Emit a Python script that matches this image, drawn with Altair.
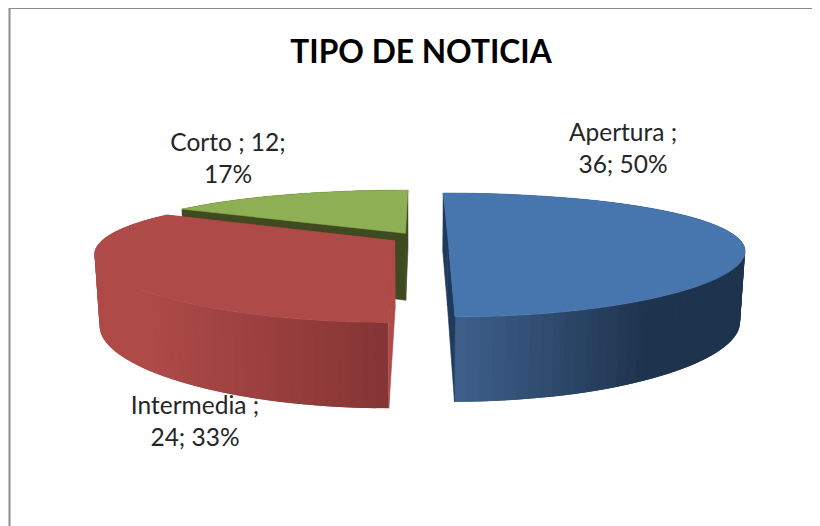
import math
import altair as alt
import pandas as pd

# ---- chart values ----
categories = ["Apertura", "Intermedia", "Corto"]
values = [36, 24, 12]
title_text = "TIPO DE NOTICIA"
label_lines = [["Apertura ;", "36; 50%"], ["Intermedia ;", "24; 33%"], ["Corto ; 12;", "17%"]]
top_colors = ["#4776ae", "#ae4a47", "#8faf54"]
cut_colors = ["#1e3a5c", "#ae4a47", "#404a20"]
wall_stops = [
    [(455, "#3e608c"), (650, "#1e334d"), (760, "#1e334d")],
    [(150, "#ae4a47"), (387, "#843535")],
    [(180, "#404a20"), (410, "#404a20")],
]
label_anchor = [(623, 134), (195, 407), (228, 144)]

# ---- view model of the 3D pie (screen px) ----
W, H = 804, 518
X0, E, K, KX = 419.5, 0.098, 0.274, 0.2
LEVELS = {"top": (290.0, 238.0, 57.3), "bottom": (285.5, 306.0, 69.5)}


def project(u, v, level):
    f, y0, g = LEVELS[level]
    return X0 + f * u / (1 + KX * v), y0 - g * v / (1 + K * v)


def mix(stops, x):
    if x <= stops[0][0]:
        return stops[0][1]
    for (a, ca), (b, cb) in zip(stops, stops[1:]):
        if x <= b:
            t = (x - a) / (b - a)
            ch = [round(int(ca[i:i + 2], 16) * (1 - t) + int(cb[i:i + 2], 16) * t) for i in (1, 3, 5)]
            return "#%02x%02x%02x" % tuple(ch)
    return stops[-1][1]


rows = []
pid = [0]


def poly(points, color, sw=0.6):
    for i, (x, y) in enumerate(points):
        rows.append({"poly": pid[0], "i": i, "x": x, "y": y, "color": color, "sw": sw})
    pid[0] += 1


total = sum(values)
spans = []
a = 0.0
for v in values:
    spans.append((a, a + 360.0 * v / total))
    a += 360.0 * v / total

# painter's order: far slice first
for idx in [2, 1, 0]:
    a0, a1 = spans[idx]
    mid = math.radians((a0 + a1) / 2)
    ou, ov = E * math.sin(mid), E * math.cos(mid)

    def rim(deg, level):
        r = math.radians(deg)
        return project(ou + math.sin(r), ov + math.cos(r), level)

    n = max(8, int((a1 - a0) / 2))
    degs = [a0 + (a1 - a0) * i / n for i in range(n + 1)]
    apex_t, apex_b = project(ou, ov, "top"), project(ou, ov, "bottom")
    # outer wall, strip by strip, each overlapping the next
    for k in range(n):
        d0, d1, d2 = degs[k], degs[k + 1], degs[min(k + 2, n)]
        p = [rim(d0, "top"), rim(d2, "top"), rim(d2, "bottom"), rim(d0, "bottom")]
        poly(p, mix(wall_stops[idx], (rim(d0, "top")[0] + rim(d1, "top")[0]) / 2), 0)
    # cut faces
    for d in (a0, a1):
        poly([apex_t, rim(d, "top"), rim(d, "bottom"), apex_b], cut_colors[idx])
    # top face
    poly([apex_t] + [rim(d, "top") for d in degs], top_colors[idx])

df = pd.DataFrame(rows)

sx = alt.Scale(domain=[8, 8 + W], range=[0, W])
sy = alt.Scale(domain=[8 + H, 8], range=[H, 0])

slices = alt.Chart(df).mark_line(interpolate="linear-closed", filled=True).encode(
    x=alt.X("x:Q", scale=sx, axis=None),
    y=alt.Y("y:Q", scale=sy, axis=None),
    detail="poly:N",
    order="i:Q",
    fill=alt.Fill("color:N", scale=None, legend=None),
    stroke=alt.Stroke("color:N", scale=None, legend=None),
    strokeWidth=alt.StrokeWidth("sw:Q", scale=None, legend=None),
)

lab_rows = []
for lines, (cx, cy) in zip(label_lines, label_anchor):
    lab_rows.append({"x": cx, "y": cy, "t": lines})
labels = alt.Chart(pd.DataFrame(lab_rows)).mark_text(
    font="Lato", fontSize=24.5, color="#262626", align="center", baseline="middle", lineHeight=32
).encode(x=alt.X("x:Q", scale=sx, axis=None), y=alt.Y("y:Q", scale=sy, axis=None), text="t")

title = alt.Chart(pd.DataFrame({"x": [421], "y": [53], "t": [title_text]})).mark_text(
    font="Lato", fontSize=31.7, fontWeight="bold", color="#000000", align="center", baseline="middle"
).encode(x=alt.X("x:Q", scale=sx, axis=None), y=alt.Y("y:Q", scale=sy, axis=None), text="t")

frame_left = alt.Chart(pd.DataFrame({"a": [0]})).mark_rule(color="#8c8c8c", strokeWidth=2).encode(
    x=alt.value(1.5), y=alt.value(0), y2=alt.value(H)
)
frame_top = alt.Chart(pd.DataFrame({"a": [0]})).mark_rule(color="#8c8c8c", strokeWidth=2).encode(
    y=alt.value(0), x=alt.value(1), x2=alt.value(W)
)

chart = alt.layer(frame_left, frame_top, slices, labels, title).properties(
    width=W, height=H, padding=0, autosize=alt.AutoSizeParams(type="none"), background="#ffffff"
).configure_view(stroke=None)

chart.save("out.html", embed_options={"renderer": "svg", "actions": False})
